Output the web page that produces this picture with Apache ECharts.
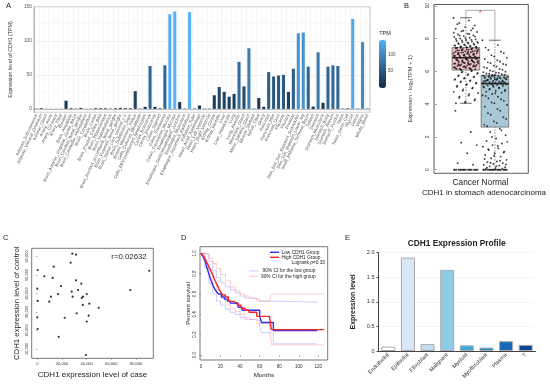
<!DOCTYPE html>
<html><head><meta charset="utf-8">
<script src="https://cdn.jsdelivr.net/npm/echarts/dist/echarts.min.js"></script>
<style>html,body{margin:0;padding:0;background:#fff}#c{width:550px;height:387px}</style>
</head><body><div id="c"></div><script>
// ---------- Panel A ----------
var tissues = ["Adipose_Subcutaneous","Adipose_Visceral_Omentum","Adrenal_Gland","Artery_Aorta","Artery_Coronary","Artery_Tibial","Bladder","Brain_Amygdala","Brain_Anterior_cingulate_cortex_BA24","Brain_Caudate_basal_ganglia","Brain_Cerebellar_Hemisphere","Brain_Cerebellum","Brain_Cortex","Brain_Frontal_Cortex_BA9","Brain_Hippocampus","Brain_Hypothalamus","Brain_Nucleus_accumbens_basal_ganglia","Brain_Putamen_basal_ganglia","Brain_Spinal_cord_cervical_c-1","Brain_Substantia_nigra","Breast_Mammary_Tissue","Cells_Cultured_fibroblasts","Cells_EBV-transformed_lymphocytes","Cervix_Ectocervix","Cervix_Endocervix","Colon_Sigmoid","Colon_Transverse","Colon_Transverse_Mucosa","Esophagus_Mucosa","Esophagus_Gastroesophageal_Junction","Esophagus_Muscularis","Esophagus_Squamous_Epithelium","Fallopian_Tube","Heart_Atrial_Appendage","Heart_Left_Ventricle","Heart_Right_Ventricle","Kidney_Cortex","Kidney_Medulla","Liver","Liver_Hepatocyte","Lung","Lung_Alveolar","Mammary_Gland","Minor_Salivary_Gland","Muscle_Skeletal","Nerve_Tibial","Ovary","Pancreas","Pancreas_Islet","Pancreas_Duct","Placenta","Pituitary","Prostate","Skin_Not_Sun_Exposed_Suprapubic","Skin_Sun_Exposed_Lower_leg","Small_Intestine_Terminal_Ileum","Spleen","Stomach","Stomach_Muscularis","Stomach_Body","Stomach_Antrum","Stomach_Fundus","Testis","Testis_Germ_Cell","Thyroid","Uterus","Vagina","Whole_Blood"];
var tpm = [0.5,1,0.3,0.3,0.3,0.3,12,1,0.5,1.5,0.3,0.3,1,1,1,0.5,1,1.5,1,1,26,0.5,3,63,3,1,64,139,143,10,0.5,142,0.5,5,0.5,0.5,20,32,25,18,22,69,33,89,0.5,16,3,54,47.5,49,50,25,59,111,112,62,3.4,83,9,62,64,63,0.5,0.8,132,0.5,98,0.5];

// ---------- Panel B ----------
var groupsB = ["Cancer","Normal"];
// [position, lower whisker, Q1, median, Q3, upper whisker]
var boxStats = [[1,4.05,6.08,6.83,7.45,9.27],[2,0,2.6,5.25,5.76,7.9]];
var cancerPts = [9.25,9.1,8.95,8.8,8.7,8.6,8.5,8.45,8.4,8.3,8.25,8.2,8.15,8.1,8.05,8.0,7.95,7.9,7.85,7.82,7.78,7.74,7.7,7.66,7.62,7.6,7.57,7.54,7.51,7.48,7.46,
8.88,8.62,8.48,8.36,8.28,8.18,8.12,8.02,7.98,7.92,7.88,7.8,7.76,7.72,7.68,7.64,7.58,7.55,7.52,7.5,7.47,
7.43,7.4,7.37,7.34,7.31,7.28,7.25,7.22,7.2,7.17,7.14,7.11,7.08,7.05,7.02,6.99,6.96,6.93,6.9,6.87,6.85,7.42,7.36,7.3,7.24,7.19,7.13,7.07,7.01,6.95,6.89,
7.44,7.39,7.33,7.27,7.21,7.16,7.1,7.04,6.98,6.92,6.86,7.41,7.35,7.29,7.23,7.15,7.09,7.03,6.97,6.91,6.84,
6.81,6.78,6.75,6.72,6.69,6.66,6.63,6.6,6.57,6.54,6.51,6.48,6.45,6.42,6.39,6.36,6.33,6.3,6.27,6.24,6.2,6.16,6.12,6.8,6.74,6.68,6.62,6.56,6.5,6.44,6.38,6.32,6.26,6.18,6.1,
6.79,6.73,6.67,6.61,6.55,6.49,6.43,6.37,6.31,6.25,6.19,6.13,6.09,6.77,6.71,6.65,6.59,6.53,6.47,6.41,6.35,6.29,6.22,6.14,
6.05,5.98,5.9,5.82,5.75,5.68,5.6,5.52,5.45,5.38,5.3,5.22,5.12,5.0,4.9,4.75,4.6,4.45,4.3,4.15,4.05,
6.02,5.94,5.86,5.78,5.71,5.64,5.56,5.48,5.41,5.34,5.26,5.17,5.06,4.95,4.82,4.68,4.52,4.38,4.22,4.1,
3.6,2.3,1.65,1.5,1.0,0.4,0.3,0,0,0,0,0,0,0,0,0,0,0,0,0,0,0,0,0,0];
var normalPts = [7.9,7.6,7.3,7.1,6.9,6.75,6.6,6.5,6.4,6.3,6.2,6.1,6.0,5.95,5.9,5.85,5.8,5.77,
7.45,7.2,6.98,6.82,6.68,6.55,6.45,6.35,6.25,6.15,6.05,5.98,5.92,5.87,5.82,5.78,
5.74,5.71,5.68,5.65,5.62,5.6,5.57,5.55,5.52,5.5,5.47,5.45,5.42,5.4,5.38,5.35,5.33,5.3,5.28,5.26,5.72,5.66,5.58,5.48,5.36,
5.73,5.69,5.63,5.59,5.54,5.49,5.44,5.39,5.34,5.29,5.27,5.7,5.61,5.51,5.41,5.31,
5.22,5.19,5.16,5.13,5.1,5.06,5.02,4.98,4.93,4.88,4.82,4.76,4.7,4.62,4.54,4.45,4.35,4.2,4.05,3.85,3.6,3.35,3.1,2.85,2.65,
5.2,5.14,5.08,5.0,4.9,4.8,4.66,4.5,4.3,4.1,3.95,3.7,3.45,3.2,2.95,2.75,
2.5,2.3,2.1,1.9,1.75,1.6,1.5,1.4,1.3,1.2,1.1,1.0,0.9,0.8,0.7,0.6,0.5,0.45,0.4,0.35,0.3,0.25,0.2,0.15,0.1,0.05,
2.4,2.0,1.7,1.45,1.25,1.05,0.85,0.65,0.55,0.42,0.32,0.22,0.12,0.08,0,0,0,0,0,0,0,0,0,0,0,0,0,0,0,0,0,0];

// ---------- Panel C ----------
var caseVals = [28350,31350,27000,300,13300,5700,12450,90700,31350,35650,19200,0,75300,33000,27850,16800,40000,11100,28650,37000,36000,300,9700,42100,36800,49700,31900,41600,22200,0,40000,300,17300,39400];
var controlVals = [61500,61000,56650,52700,54500,49300,48400,52300,47100,45300,44000,42600,41900,41900,41000,39700,39700,38300,38300,38300,37600,36000,35600,34500,33800,32300,29300,28000,26900,27100,24800,20800,16600,6750];

// ---------- Panel D ----------
var kmLow = [[0,1],[2,0.97],[4,0.93],[6,0.86],[8,0.8],[10,0.74],[12,0.69],[14,0.65],[16,0.62],[18,0.6],[21,0.57],[24,0.55],[27,0.53],[30,0.51],[34,0.5],[38,0.47],[42,0.44],[55,0.44],[60,0.38],[62,0.32],[74,0.24],[119,0.24]];
var kmHigh = [[0,1],[2,0.98],[4,0.95],[6,0.91],[8,0.87],[10,0.83],[12,0.79],[14,0.74],[16,0.7],[18,0.66],[20,0.62],[22,0.59],[25,0.57],[28,0.53],[31,0.52],[35,0.51],[38,0.49],[41,0.46],[45,0.44],[49,0.42],[57,0.38],[70,0.37],[72,0.25],[126,0.25]];
var ciLowUp = [[0,1],[4,0.99],[8,0.92],[12,0.83],[16,0.76],[20,0.71],[25,0.67],[30,0.64],[35,0.61],[40,0.58],[45,0.56],[50,0.55],[60,0.53],[75,0.52],[118,0.51]];
var ciLowDn = [[0,1],[4,0.86],[8,0.7],[12,0.6],[16,0.53],[20,0.49],[25,0.45],[30,0.42],[35,0.4],[40,0.37],[45,0.35],[55,0.34],[60,0.28],[62,0.22],[74,0.11],[118,0.11]];
var ciHighUp = [[0,1],[4,0.99],[8,0.95],[12,0.9],[16,0.85],[20,0.79],[25,0.73],[30,0.67],[35,0.63],[40,0.6],[45,0.58],[50,0.56],[57,0.53],[70,0.52],[72,0.6],[126,0.6]];
var ciHighDn = [[0,1],[4,0.9],[8,0.8],[12,0.7],[16,0.63],[20,0.56],[25,0.5],[30,0.46],[35,0.43],[40,0.4],[45,0.37],[50,0.35],[57,0.31],[70,0.29],[72,0.1],[126,0.1]];

// ---------- Panel E ----------
var cellTypes = ["Endothelial","Epithelial","Fibroblast","Malignant","Myeloid","Myofibroblast","Plasma","T"];
var cellExpr = [0.09,1.9,0.14,1.65,0.115,0.07,0.2,0.125];
var cellColors = ['#ffffff','#d9e8f6','#c4dcf0','#8ecbe6','#3aa7dd','#1d8fcf','#1769b8','#0c4698'];

function jit(i, w){ return (((i*0.6180339887)%1)-0.5)*w; }

var chart = echarts.init(document.getElementById('c'), null, {renderer:'canvas'});
var FF = 'Liberation Sans, Arial, sans-serif';
var txt = function(t,x,y,size,opt){
  opt = opt||{};
  return {type:'text', x:x, y:y, style:{text:t, fontSize:size, fontFamily:FF, fill:opt.fill||'#222', fontWeight:opt.bold?'bold':'normal', align:opt.align||'left', verticalAlign:'middle', textAlign:opt.align||'left', textVerticalAlign:'middle'}, z:100};
};
var ln = function(x1,y1,x2,y2,color,w){
  return {type:'line', shape:{x1:x1,y1:y1,x2:x2,y2:y2}, style:{stroke:color, lineWidth:w}, z:100};
};

var option = {
  animation:false,
  textStyle:{fontFamily:FF},
  grid:[
    {left:31, top:6.7, width:339, height:105.6, show:true, borderColor:'#aaa', borderWidth:0.8, backgroundColor:'#fff'},
    {left:434, top:3.3, width:94.3, height:170, show:true, borderColor:'#333', borderWidth:0.8},
    {left:31.7, top:248.3, width:121.6, height:110, show:true, borderColor:'#555', borderWidth:0.8},
    {left:200, top:246.7, width:127.7, height:113.3, show:true, borderColor:'#555', borderWidth:0.8},
    {left:378.5, top:252.7, width:157, height:98.3},
    {left:379, top:40, width:7, height:48}
  ],
  visualMap:{type:'continuous', seriesIndex:0, min:0, max:143, inRange:{color:['#132B43','#56B1F7']}, left:379, top:40, itemWidth:7, itemHeight:48, padding:0, calculable:false, text:null, showLabel:false, hoverLink:false},
  xAxis:[
    {gridIndex:0, type:'category', data:tissues, axisLine:{lineStyle:{color:'#999',width:0.6}}, axisTick:{length:1.5, lineStyle:{color:'#999',width:0.5}}, axisLabel:{rotate:65, fontSize:4.3, color:'#555', interval:0, margin:2}, splitLine:{show:true, lineStyle:{color:'#ececec', width:0.5}}},
    {gridIndex:1, type:'value', min:-0.1, max:3.15, axisLine:{show:false}, axisTick:{show:false}, splitLine:{show:false}, axisLabel:{fontSize:8.3, color:'#222', margin:5, formatter:function(v){return v===1?groupsB[0]:(v===2?groupsB[1]:'');}}},
    {gridIndex:2, type:'value', min:-4536, max:93960, axisLine:{show:false}, axisTick:{length:1.5, lineStyle:{color:'#555',width:0.5}}, splitLine:{show:false}, axisLabel:{fontSize:4, color:'#333', margin:4, showMinLabel:false, showMaxLabel:false}, name:'CDH1 expression level of case', nameLocation:'middle', nameGap:12, nameTextStyle:{fontSize:8, color:'#222'}},
    {gridIndex:3, type:'value', min:-1, max:129.6, splitNumber:6, axisLine:{show:false}, axisTick:{length:1.5, lineStyle:{color:'#555',width:0.5}}, splitLine:{show:false}, axisLabel:{fontSize:4.6, color:'#333', margin:4, showMinLabel:false, showMaxLabel:false}, name:'Months', nameLocation:'middle', nameGap:12, nameTextStyle:{fontSize:6.2, color:'#222'}},
    {gridIndex:4, type:'category', data:cellTypes, axisLine:{lineStyle:{color:'#444', width:1}}, axisTick:{show:false}, axisLabel:{rotate:45, fontSize:5.5, color:'#333', interval:0, margin:3}},
    {gridIndex:5, type:'value', show:false, min:0, max:1}
  ],
  yAxis:[
    {gridIndex:0, type:'value', min:-5, max:150, splitNumber:3, axisLine:{show:true, lineStyle:{color:'#999',width:0.6}}, axisTick:{length:1.5, lineStyle:{color:'#999',width:0.5}}, axisLabel:{fontSize:4.8, color:'#555', margin:2, showMinLabel:false}, splitLine:{lineStyle:{color:'#e6e6e6', width:0.6}}, minorTick:{show:false, splitNumber:2}, minorSplitLine:{show:true, lineStyle:{color:'#f2f2f2', width:0.5}}, name:'Expression level of CDH1 (TPM)', nameLocation:'middle', nameGap:13, nameTextStyle:{fontSize:5.3, color:'#333'}},
    {gridIndex:1, type:'value', min:-0.22, max:10.08, axisLine:{show:false}, axisTick:{length:2, lineStyle:{color:'#333',width:0.5}}, splitLine:{show:false}, axisLabel:{rotate:90, fontSize:5, color:'#333', margin:4, showMinLabel:false, showMaxLabel:false}, name:'Expression - log\u2082(TPM + 1)', nameLocation:'middle', nameGap:21, nameTextStyle:{fontSize:5.6, color:'#333'}},
    {gridIndex:2, type:'value', min:4973, max:64430, axisLine:{show:false}, axisTick:{length:1.5, lineStyle:{color:'#555',width:0.5}}, splitLine:{show:false}, axisLabel:{rotate:90, fontSize:4, color:'#333', margin:3, showMinLabel:false, showMaxLabel:false}, name:'CDH1 expression level of control', nameLocation:'middle', nameGap:11, nameTextStyle:{fontSize:7.8, color:'#222'}},
    {gridIndex:3, type:'value', min:-0.049, max:1.065, axisLine:{show:false}, axisTick:{length:1.5, lineStyle:{color:'#555',width:0.5}}, splitLine:{show:false}, axisLabel:{rotate:90, fontSize:4.6, color:'#333', margin:3, showMinLabel:false, showMaxLabel:false, formatter:function(v){return v.toFixed(1);}}, name:'Percent survival', nameLocation:'middle', nameGap:8.5, nameTextStyle:{fontSize:6, color:'#222'}},
    {gridIndex:4, type:'value', min:0, max:2, interval:0.5, axisLine:{show:true, lineStyle:{color:'#444', width:1}}, axisTick:{show:true, length:2, lineStyle:{color:'#444'}}, splitLine:{lineStyle:{color:'#f0f0f0', width:0.6}}, axisLabel:{fontSize:5.5, color:'#333', margin:4, formatter:function(v){return v===0?'0':v.toFixed(1);}}, name:'Expression level', nameLocation:'middle', nameGap:22, nameTextStyle:{fontSize:7, fontWeight:'bold', color:'#222'}},
    {gridIndex:5, type:'value', min:0, max:143, interval:50, position:'right', axisLine:{show:false}, axisTick:{show:true, inside:true, length:1.5, lineStyle:{color:'#fff', width:0.6}}, splitLine:{show:false}, axisLabel:{fontSize:4.5, color:'#444', margin:2, showMinLabel:false, showMaxLabel:false}}
  ],
  series:[
    {type:'bar', xAxisIndex:0, yAxisIndex:0, data:tpm, barWidth:'62%'},
    {type:'custom', xAxisIndex:1, yAxisIndex:1, z:2, data:boxStats,
      renderItem:function(params, api){
        var x=api.value(0), hw=0.475, cw=0.2;
        var fill = params.dataIndex===0 ? '#efc2c9' : '#a9c8d5';
        var p1=api.coord([x-hw, api.value(4)]), p2=api.coord([x+hw, api.value(2)]);
        var wt=api.coord([x, api.value(5)]), q3=api.coord([x, api.value(4)]);
        var wb=api.coord([x, api.value(1)]), q1=api.coord([x, api.value(2)]);
        var ctL=api.coord([x-cw, api.value(5)]), ctR=api.coord([x+cw, api.value(5)]);
        var cbL=api.coord([x-cw, api.value(1)]), cbR=api.coord([x+cw, api.value(1)]);
        var s={stroke:'#555', lineWidth:0.7, lineDash:[1.5,1.5]};
        return {type:'group', children:[
          {type:'rect', shape:{x:p1[0], y:p1[1], width:p2[0]-p1[0], height:p2[1]-p1[1]}, style:{fill:fill, stroke:'#666', lineWidth:0.8}},
          {type:'line', shape:{x1:wt[0],y1:wt[1],x2:q3[0],y2:q3[1]}, style:s},
          {type:'line', shape:{x1:wb[0],y1:wb[1],x2:q1[0],y2:q1[1]}, style:s},
          {type:'line', shape:{x1:ctL[0],y1:ctL[1],x2:ctR[0],y2:ctR[1]}, style:{stroke:'#444', lineWidth:0.8}},
          {type:'line', shape:{x1:cbL[0],y1:cbL[1],x2:cbR[0],y2:cbR[1]}, style:{stroke:'#444', lineWidth:0.8}}
        ]};
      }},
    {type:'scatter', xAxisIndex:1, yAxisIndex:1, z:3, symbolSize:1.9, itemStyle:{color:'#111', opacity:0.8}, data:cancerPts.map(function(v,i){return [1+jit(i,0.86), v];})},
    {type:'scatter', xAxisIndex:1, yAxisIndex:1, z:3, symbolSize:1.9, itemStyle:{color:'#111', opacity:0.8}, data:normalPts.map(function(v,i){return [2+jit(i,0.86), v];})},
    {type:'custom', xAxisIndex:1, yAxisIndex:1, z:4, data:boxStats,
      renderItem:function(params, api){
        var x=api.value(0), hw=0.475;
        var a=api.coord([x-hw, api.value(3)]), b=api.coord([x+hw, api.value(3)]);
        return {type:'line', shape:{x1:a[0],y1:a[1],x2:b[0],y2:b[1]}, style:{stroke:'#222', lineWidth:1.6}};
      }},
    {type:'line', xAxisIndex:1, yAxisIndex:1, z:4, symbol:'none', lineStyle:{color:'#777', width:0.6}, data:[[1,9.32],[1,9.72],[2,9.72],[2,7.95]]},
    {type:'scatter', xAxisIndex:1, yAxisIndex:1, z:5, symbolSize:0, data:[[1.5,9.72]], label:{show:true, formatter:'*', color:'#e02020', fontSize:8, position:'inside', offset:[0,2]}},
    {type:'scatter', xAxisIndex:2, yAxisIndex:2, symbolSize:2.2, itemStyle:{color:'#000'}, data:caseVals.map(function(v,i){return [v, controlVals[i]];})},
    {type:'line', xAxisIndex:3, yAxisIndex:3, step:'end', symbol:'none', lineStyle:{color:'rgba(140,140,255,0.55)', width:0.8}, data:ciLowUp},
    {type:'line', xAxisIndex:3, yAxisIndex:3, step:'end', symbol:'none', lineStyle:{color:'rgba(140,140,255,0.55)', width:0.8}, data:ciLowDn},
    {type:'line', xAxisIndex:3, yAxisIndex:3, step:'end', symbol:'none', lineStyle:{color:'rgba(255,140,140,0.55)', width:0.8}, data:ciHighUp},
    {type:'line', xAxisIndex:3, yAxisIndex:3, step:'end', symbol:'none', lineStyle:{color:'rgba(255,140,140,0.55)', width:0.8}, data:ciHighDn},
    {type:'line', xAxisIndex:3, yAxisIndex:3, step:'end', symbol:'none', lineStyle:{color:'#2f2ff5', width:1.4}, data:kmLow},
    {type:'line', xAxisIndex:3, yAxisIndex:3, step:'end', symbol:'none', lineStyle:{color:'#f52525', width:1.4}, data:kmHigh},
    {type:'bar', xAxisIndex:4, yAxisIndex:4, barWidth:14, data:cellExpr.map(function(v,i){return {value:v, itemStyle:{color:cellColors[i], borderColor:'#aaa', borderWidth:1}};})}
  ],
  graphic:[
    txt('A',6,6,7.5), txt('B',404,6,7.5), txt('C',3,238,7.5), txt('D',181,238,7.5), txt('E',345,238,7.5),
    txt('TPM',385,33,5.5,{align:'center'}),
    txt('CDH1 in stomach adenocarcinoma',484,193,8,{align:'center'}),
    txt('r=0.02632',129,257,7.8,{align:'center'}),
    ln(270,252.3,279,252.3,'#2f2ff5',1.4), txt('Low CDH1 Group',281.5,252.3,4.8),
    ln(270,257.3,279,257.3,'#f52525',1.4), txt('High CDH1 Group',281.5,257.3,4.8),
    txt('Logrank p=0.33',325,262.3,4.8,{align:'right'}),
    ln(249,271,258.5,271,'rgba(140,140,255,0.6)',0.8), txt('90% CI for the low group',262.5,271,4.8),
    ln(249,276.3,258.5,276.3,'rgba(255,140,140,0.6)',0.8), txt('90% CI for the high group',261,276.3,4.8),
    txt('CDH1 Expression Profile',456.7,243.3,8.3,{align:'center', bold:true})
  ]
};
chart.setOption(option);
</script></body></html>
